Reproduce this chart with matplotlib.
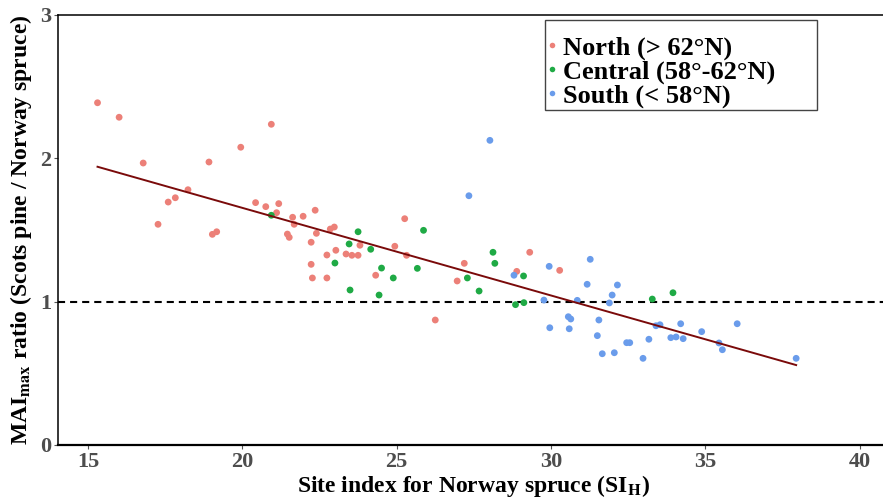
import matplotlib
matplotlib.use("Agg")
import matplotlib.pyplot as plt
from matplotlib.lines import Line2D
from matplotlib.patches import Rectangle

# Site index (SI_H) and MAImax ratio, per region.
north_si = [15.31, 16.01, 16.79, 17.27, 17.60, 17.83, 18.24, 18.92, 19.03, 19.17,
            19.95, 20.43, 20.76, 20.94, 21.11, 21.18, 21.46, 21.52, 21.63, 21.68,
            21.97, 22.36, 22.40, 22.23, 22.23, 22.27, 22.74, 22.74, 22.85, 22.98,
            23.03, 23.36, 23.55, 23.75, 23.81, 24.32, 24.94, 25.26, 25.32, 26.25,
            26.96, 27.19, 28.89, 29.31, 30.28]
north_ratio = [2.385, 2.284, 1.965, 1.538, 1.693, 1.723, 1.779, 1.972, 1.468, 1.486,
               2.075, 1.689, 1.661, 2.235, 1.619, 1.682, 1.470, 1.447, 1.587, 1.538,
               1.594, 1.636, 1.475, 1.413, 1.259, 1.164, 1.324, 1.164, 1.505, 1.519,
               1.357, 1.331, 1.322, 1.322, 1.392, 1.183, 1.385, 1.577, 1.322, 0.871,
               1.143, 1.266, 1.210, 1.343, 1.217]

central_si = [20.94, 23.00, 23.46, 23.75, 23.49, 24.16, 24.43, 24.51, 24.89, 25.67,
              25.87, 27.29, 27.67, 28.12, 28.18, 29.11, 28.85, 29.12, 33.28, 33.95]
central_ratio = [1.601, 1.268, 1.401, 1.486, 1.080, 1.364, 1.045, 1.233, 1.164, 1.231,
                 1.496, 1.164, 1.073, 1.343, 1.266, 1.178, 0.978, 0.992, 1.017, 1.061]

south_si = [28.02, 27.34, 28.80, 29.94, 29.77, 29.96, 30.56, 30.64, 30.59, 30.85,
            31.27, 31.17, 31.55, 31.50, 31.66, 32.05, 32.15, 31.98, 31.89, 32.45,
            32.55, 32.98, 33.17, 33.40, 33.53, 34.20, 33.88, 34.05, 34.28, 34.88,
            35.44, 35.55, 36.03, 37.94]
south_ratio = [2.123, 1.737, 1.183, 1.245, 1.010, 0.817, 0.894, 0.878, 0.810, 1.008,
               1.294, 1.120, 0.871, 0.762, 0.636, 0.643, 1.115, 1.045, 0.990, 0.713,
               0.713, 0.604, 0.737, 0.831, 0.838, 0.845, 0.748, 0.753, 0.741, 0.790,
               0.711, 0.664, 0.845, 0.604]

# fitted regression line, end points
fit_si = [15.31, 37.94]
fit_ratio = [1.939, 0.557]

groups = [
    ("North (> 62°N)", north_si, north_ratio, "#ec8078"),
    ("Central (58°-62°N)", central_si, central_ratio, "#1faa45"),
    ("South (< 58°N)", south_si, south_ratio, "#6a9ceb"),
]

SERIF = ["Liberation Serif", "DejaVu Serif"]
plt.rcParams["font.family"] = SERIF
plt.rcParams["mathtext.fontset"] = "stix"

W, H = 883, 500
fig = plt.figure(figsize=(W / 100, H / 100), dpi=100)
ax = fig.add_axes([58 / W, 55 / H, 832 / W, 430.5 / H])

for name, xs, ys, col in groups:
    ax.scatter(xs, ys, s=24, color=col, edgecolors="none", zorder=3, label=name)

ax.plot(fit_si, fit_ratio, color="#7a0a0a", lw=1.4, zorder=4)
ax.axhline(1, color="black", lw=1.5, dashes=(3.4, 2.4), zorder=2)

ax.set_xlim(14.03, 40.98)
ax.set_ylim(0, 3)
ax.set_xticks([15, 20, 25, 30, 35, 40])
ax.set_yticks([0, 1, 2, 3])

for side in ("top", "left"):
    ax.spines[side].set_linewidth(1.1)
ax.spines["bottom"].set_linewidth(1.6)
ax.spines["right"].set_visible(False)
ax.tick_params(length=3, width=0.8, color="#555555", labelcolor="#4d4d4d",
               labelsize=16, pad=2)
for lab in ax.get_xticklabels() + ax.get_yticklabels():
    lab.set_fontweight("bold")

ax.set_xlabel(r"Site index for Norway spruce (SI$_{\mathbf{H}}$)", fontsize=17,
              fontweight="bold", labelpad=1)
ax.set_ylabel(r"MAI$_{\mathbf{max}}$ ratio (Scots pine / Norway spruce)", fontsize=17,
              fontweight="bold", labelpad=4)

# legend: box drawn by hand so the padding matches the ggplot one
fig.patches.append(Rectangle((545 / W, 1 - 110 / H), 272 / W, 90 / H,
                             transform=fig.transFigure, fill=False,
                             edgecolor="#444444", lw=1.0, zorder=10))
handles = [Line2D([], [], ls="none", marker="o", ms=4, color=c, mec="none")
           for _, _, _, c in groups]
leg = ax.legend(handles, [g[0] for g in groups], loc="upper left",
                bbox_to_anchor=(545 / W, 1 - 36 / H), bbox_transform=fig.transFigure,
                prop={"family": SERIF, "weight": "bold", "size": 19},
                frameon=False, handlelength=0.5, handletextpad=0.2,
                labelspacing=0.0, borderpad=0, borderaxespad=0)

fig.savefig("out.png", dpi=100, facecolor="white")
